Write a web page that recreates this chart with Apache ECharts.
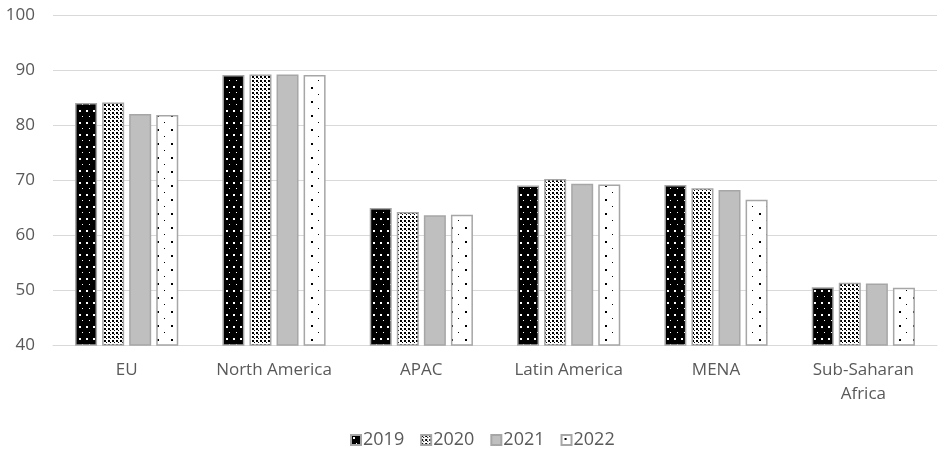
<!DOCTYPE html>
<html><head><meta charset="utf-8">
<script src="https://cdn.jsdelivr.net/npm/echarts@6/dist/echarts.min.js"></script>
<style>html,body{margin:0;padding:0;background:#fff}#c{width:945px;height:450px}</style>
</head><body><div id="c"></div>
<script>
const categories = ['EU', 'North America', 'APAC', 'Latin America', 'MENA', 'Sub-Saharan\nAfrica'];
const years = ['2019', '2020', '2021', '2022'];
const v2019 = [84.0, 89.1, 64.9, 69.0, 69.1, 50.5];
const v2020 = [84.1, 89.2, 64.2, 70.2, 68.5, 51.3];
const v2021 = [82.0, 89.2, 63.6, 69.3, 68.2, 51.2];
const v2022 = [81.8, 89.1, 63.7, 69.2, 66.4, 50.4];
const yTicks = [40, 50, 60, 70, 80, 90, 100];

function tile(w, h, bg, fg, dots) {
  const c = document.createElement('canvas');
  c.width = w; c.height = h;
  const g = c.getContext('2d');
  g.fillStyle = bg; g.fillRect(0, 0, w, h);
  g.fillStyle = fg;
  dots.forEach(d => g.fillRect(d[0], d[1], d[2], d[3]));
  return { image: c, repeat: 'repeat' };
}
const pat2019 = tile(7, 12, '#000', '#fff', [[2, 2, 2, 2], [5, 8, 1, 1]]);
const pat2020 = tile(4, 4, '#fff', '#000', [[0, 0, 2, 2], [2, 2, 1, 1]]);
const pat2021 = '#bfbfbf';
const pat2022 = tile(14, 14, '#fff', '#000', [[3, 3, 2, 2], [10, 10, 1, 1]]);
const fills = [pat2019, pat2020, pat2021, pat2022];
const vals = [v2019, v2020, v2021, v2022];
const font = 'Open Sans';

const chart = echarts.init(document.getElementById('c'), null, { renderer: 'canvas' });
chart.setOption({
  animation: false,
  grid: { left: 53, right: 8, top: 15, bottom: 105, containLabel: false },
  legend: {
    top: 426, left: 345, itemWidth: 10, itemHeight: 10, itemGap: 16,
    icon: 'rect',
    textStyle: { color: '#595959', fontSize: 18, fontFamily: font, padding: [0, 0, 0, -3] },
    data: years
  },
  xAxis: {
    type: 'category', data: categories,
    axisLine: { lineStyle: { color: '#d9d9d9' } },
    axisTick: { show: false },
    axisLabel: { color: '#595959', fontSize: 17, fontFamily: font, margin: 13, lineHeight: 24, interval: 0 }
  },
  yAxis: {
    type: 'value', min: 40, max: 100, interval: 10,
    axisLine: { show: false }, axisTick: { show: false },
    splitLine: { lineStyle: { color: '#d9d9d9' } },
    axisLabel: { color: '#595959', fontSize: 17, fontFamily: font, margin: 18 }
  },
  series: years.map((y, i) => ({
    name: y, type: 'bar', data: vals[i],
    barWidth: 22, barGap: '23%',
    itemStyle: { color: fills[i], borderColor: '#a6a6a6', borderWidth: 1.5 }
  }))
});
</script></body></html>
